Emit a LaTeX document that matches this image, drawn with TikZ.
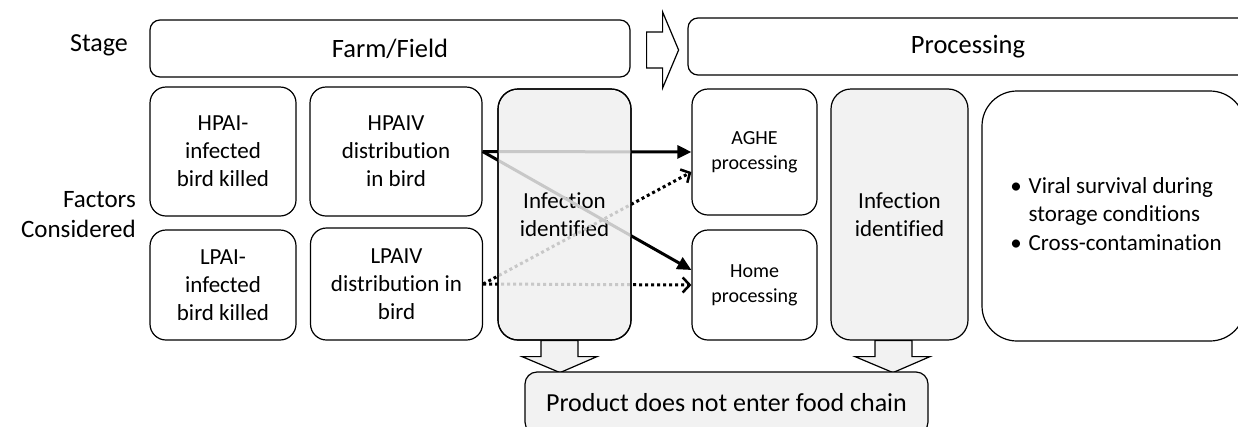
\documentclass[tikz,border=0pt]{standalone}
\usepackage{fontspec}
\setmainfont{Carlito}[Ligatures={NoCommon,NoRequired,NoContextual,NoRare}]
\usetikzlibrary{arrows.meta,calc}
\definecolor{boxgray}{HTML}{F2F2F2}
\definecolor{linegray}{HTML}{C8C8C8}
\begin{document}
\begin{tikzpicture}[x=1pt,y=-1pt,
  box/.style={draw, line width=1.2pt, rounded corners=16pt, align=center, inner sep=0pt, font=\fontsize{23}{28}\selectfont},
  stagebox/.style={draw, line width=1.2pt, rounded corners=10pt, inner sep=0pt, font=\fontsize{26.5}{32}\selectfont},
  label/.style={inner sep=0pt, font=\fontsize{26}{30}\selectfont},
  shaded/.style={fill=boxgray},
  small/.style={font=\fontsize{20}{25}\selectfont},
  solidarr/.style={line width=3pt, -{Triangle[length=14pt,width=13pt]}},
  dotarr/.style={line width=3pt, dash pattern=on 3pt off 3pt, -{Straight Barb[length=7pt,width=15pt,line width=2.5pt]}},
  grayline/.style={linegray, line width=3pt},
  graydot/.style={linegray, line width=3pt, dash pattern=on 3pt off 3pt},
  blockarrow/.style={draw, line width=1.2pt, line join=miter}
]
\clip (0,0) rectangle (1238,426);
\fill[white] (0,0) rectangle (1238,426);

% row labels
\node[label] (stage) at (99,45) {Stage};
\node[label, align=right, anchor=east, font=\fontsize{25}{30}\selectfont] (factors) at (136,215) {Factors\\Considered};

% stage boxes
\node[stagebox, minimum width=480pt, minimum height=57pt] (farm) at (390,48.5) {Farm/Field};
\node[stagebox, minimum width=560pt, minimum height=57pt] (proc) at (968,46.5) {Processing};
\draw[blockarrow, fill=white] (farm.east) +(16,-16.5) -- +(32,-16.5) -- +(32,-36.5) -- +(48,1.5) -- +(32,39.5) -- +(32,19.5) -- +(16,19.5) -- cycle;

% factor boxes
\node[box, minimum width=146pt, minimum height=129pt] (hpai) at (223,151.5) {HPAI-\\infected\\bird killed};
\node[box, minimum width=146pt, minimum height=110pt] (lpai) at (223,285) {LPAI-\\infected\\bird killed};
\node[box, minimum width=172pt, minimum height=129pt] (hpaiv) at (396,151.5) {HPAIV\\distribution\\in bird};
\node[box, minimum width=172pt, minimum height=112pt] (lpaiv) at (396.5,284) {LPAIV\\distribution in\\bird};
\node[box, small, minimum width=125pt, minimum height=126pt] (aghe) at (754.5,152) {AGHE\\processing};
\node[box, small, minimum width=125pt, minimum height=110pt] (home) at (754.5,285) {Home\\processing};

% connectors (black parts)
\draw[solidarr] (hpaiv.east) -- (aghe.west);
\draw[solidarr] (hpaiv.east) -- ([yshift=15pt]home.west);
\draw[dotarr] (lpaiv.east) -- ([yshift=-20pt]aghe.west);
\draw[dotarr] (lpaiv.east) -- (home.west);

% infection identified (farm)
\node[box, shaded, rounded corners=20pt, minimum width=133pt, minimum height=251pt] (inf1) at (564.5,214.5) {Infec\kern0pt tion\\identified};

% connectors (gray parts inside the box)
\begin{scope}
\clip ([xshift=0.7pt]inf1.north west) rectangle ([xshift=-0.7pt]inf1.south east);
\draw[grayline] (hpaiv.east) -- (aghe.west);
\draw[grayline] (hpaiv.east) -- ([yshift=15pt]home.west);
\draw[graydot] (lpaiv.east) -- ([yshift=-20pt]aghe.west);
\draw[graydot] (lpaiv.east) -- (home.west);
\end{scope}
\node[box, rounded corners=20pt, minimum width=133pt, minimum height=251pt, fill=none] (inf1border) at (inf1) {\phantom{Infection}};

% infection identified (processing)
\node[box, shaded, rounded corners=20pt, minimum width=137pt, minimum height=251pt] (inf2) at (899.5,214.5) {Infec\kern0pt tion\\identified};

% considerations
\node[box, rounded corners=35pt, minimum width=263pt, minimum height=250pt, align=left] (cons) at (1113.5,216) {};
\node[inner sep=0pt, font=\fontsize{23}{28.5}\selectfont] (constext) at (1116,216) {%
\begin{tabular}{@{}l@{\hspace{7pt}}l@{}}
\textbullet & Viral survival during\\
 & storage condi\kern0pt tions\\
\textbullet & Cross-contamina\kern0pt tion
\end{tabular}};

% down arrows
\draw[blockarrow, fill=boxgray] (inf1.south) +(-23.5,0) -- +(-23.5,16) -- +(-42.5,16) -- +(-4.5,32) -- +(32.5,16) -- +(13.5,16) -- +(13.5,0) -- cycle;
\draw[blockarrow, fill=boxgray] (inf2.south) +(-24.5,0) -- +(-24.5,16) -- +(-44.5,16) -- +(-6.5,32) -- +(30.5,16) -- +(12.5,16) -- +(12.5,0) -- cycle;

% product box
\node[box, shaded, rounded corners=12pt, minimum width=403pt, minimum height=62pt, font=\fontsize{26}{31}\selectfont] (product) at (726.5,403) {Product does not enter food chain};
\end{tikzpicture}
\end{document}
